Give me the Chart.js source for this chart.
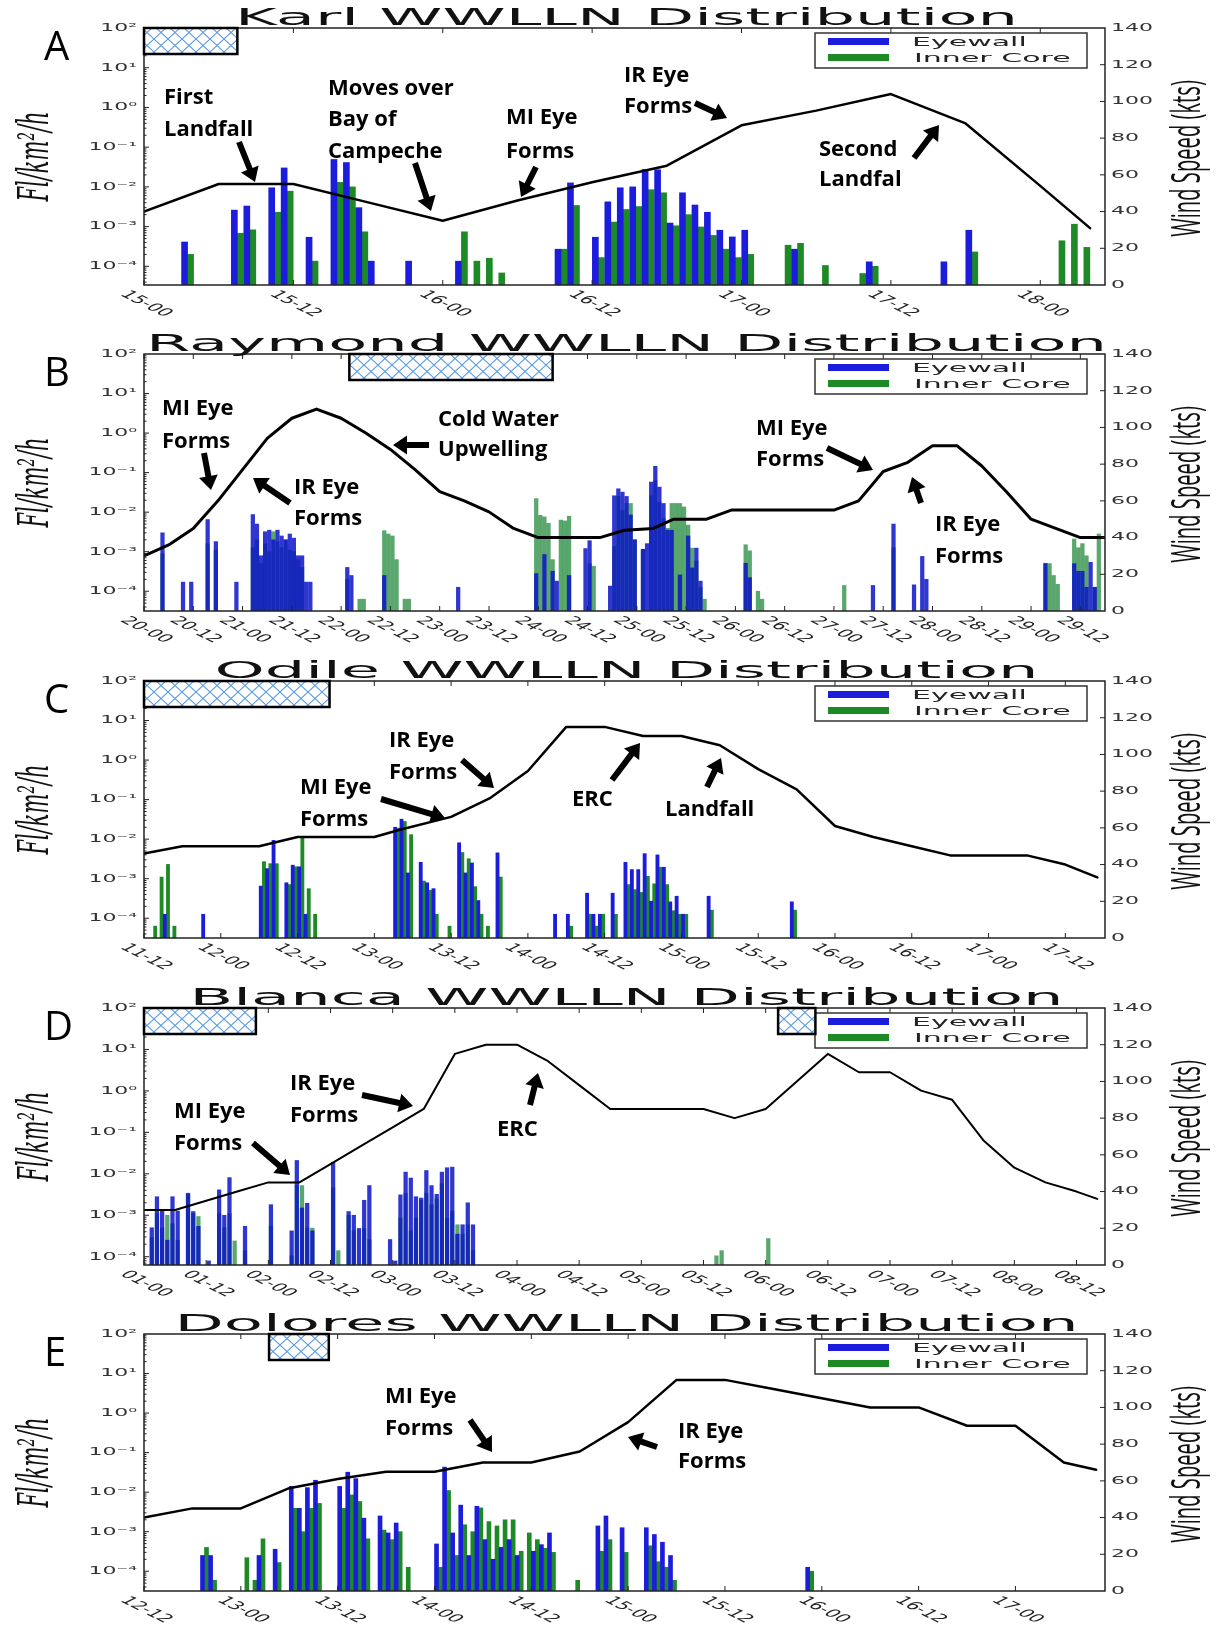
<!DOCTYPE html>
<html>
<head>
<meta charset="utf-8">
<title>WWLLN Distribution</title>
<script src="https://cdn.jsdelivr.net/npm/chart.js@4.4.1/dist/chart.umd.min.js"></script>
<style>
  html, body { margin: 0; padding: 0; background: #fff; }
  #page { position: relative; width: 1225px; height: 1637px; }
  #page canvas { position: absolute; left: 0; }
</style>
</head>
<body>
<div id="page">
  <canvas id="karl" width="1225" height="327" style="top:0px"></canvas>
  <canvas id="raymond" width="1225" height="327" style="top:326px"></canvas>
  <canvas id="odile" width="1225" height="327" style="top:653px"></canvas>
  <canvas id="blanca" width="1225" height="327" style="top:980px"></canvas>
  <canvas id="dolores" width="1225" height="327" style="top:1306px"></canvas>
</div>
<script>
// ---------- Karl (hours after 15-00) ----------
const karlTicks = ['15-00','15-12','16-00','16-12','17-00','17-12','18-00'];
const karlWindHours = [0,6,12,18,24,30,36,42,48,54,60,66,72,76];
const karlWind = [40,55,55,45,35,46,56,65,87,95,104,88,54,31];
const karlHours = [3,7,8,10,11,13,15,16,17,18,21,25,26,27,28,33,34,36,37,38,39,40,41,42,43,44,45,46,47,48,51,52,54,57,58,64,66,73,74,75];
const karlEyewall = [4.1e-4,2.6e-3,3.3e-3,9.5e-3,3.0e-2,5.4e-4,4.9e-2,4.1e-2,3.0e-3,1.35e-4,1.35e-4,1.35e-4,null,null,null,2.7e-4,1.26e-2,5.4e-4,4.2e-3,9.5e-3,1.0e-2,2.75e-2,2.7e-2,1.23e-3,7.1e-3,3.5e-3,2.3e-3,8.1e-4,5.5e-4,8.1e-4,null,2.7e-4,null,null,1.3e-4,1.3e-4,8.1e-4,null,null,null];
const karlInnerCore = [2.0e-4,6.8e-4,8.3e-4,2.3e-3,7.8e-3,1.35e-4,1.3e-2,1.0e-2,7.4e-4,null,null,7.4e-4,1.35e-4,1.6e-4,6.8e-5,2.7e-4,3.4e-3,1.66e-4,1.3e-3,2.7e-3,3.2e-3,8.5e-3,7.1e-3,1.05e-3,2.0e-3,9.8e-4,6.0e-4,2.7e-4,1.66e-4,2.0e-4,3.4e-4,3.8e-4,1.05e-4,6.6e-5,1.0e-4,null,2.3e-4,4.4e-4,1.15e-3,3.0e-4];
const karlImagery = [[0, 7.5]];

// ---------- Raymond (hours after 20-00) ----------
const raymondTicks = ['20-00','20-12','21-00','21-12','22-00','22-12','23-00','23-12','24-00','24-12','25-00','25-12','26-00','26-12','27-00','27-12','28-00','28-12','29-00','29-12'];
const raymondWindHours = [0,6,12,18,24,30,36,42,48,54,60,66,72,78,84,90,96,111,117,124,129,137,143,168,174,180,186,192,198,204,210,216,222,228,234];
const raymondWind = [30,36,45,60,77,94,105,110,105,97,88,77,65,60,54,45,40,40,44,45,50,50,55,55,60,76,81,90,90,79,65,50,45,40,40];
const raymondHours = [4,9,11,15,17,22,26,27,28,29,30,31,32,33,34,35,36,37,38,39,40,49,50,52,53,58,59,60,61,63,64,76,95,96,97,98,99,100,101,102,103,107,108,109,113,114,115,116,117,118,119,121,122,123,124,125,126,127,128,129,130,131,132,133,134,135,136,146,147,149,150,170,177,182,187,189,190,219,220,221,222,226,227,228,229,230,231,232];
const raymondEyewall = [3.0e-3,1.7e-4,1.7e-4,6.5e-3,1.8e-3,1.7e-4,8.7e-3,5.0e-3,7.9e-4,3.2e-3,
  3.5e-3,2.0e-3,3.5e-3,2.5e-3,2.0e-3,2.8e-3,2.2e-3,7.9e-4,7.9e-4,1.7e-4,
  1.7e-4,4.0e-4,2.5e-4,null,null,2.5e-4,null,null,null,null,
  null,1.26e-4,2.8e-4,null,8.5e-4,null,3.2e-4,1.8e-4,null,null,
  2.5e-4,1.2e-3,1.9e-3,null,1.35e-4,2.6e-2,3.9e-2,3.2e-2,2.5e-2,8.5e-3,
  2.0e-3,1.15e-3,1.6e-3,5.8e-2,1.45e-1,4.3e-2,1.66e-2,3.5e-3,3.5e-3,null,
  2.6e-4,null,2.5e-3,3.9e-4,1.23e-3,1.8e-4,null,5.1e-4,2.2e-4,null,
  null,null,1.4e-4,5.0e-3,1.45e-4,7.6e-4,2.0e-4,5.0e-4,null,null,
  null,5.0e-4,3.2e-4,3.2e-4,1.26e-4,5.4e-4,1.26e-4,null];
const raymondInnerCore = [8.9e-4,null,null,1.6e-3,1.1e-3,null,1.26e-3,2.0e-3,5.0e-4,1.6e-3,
  1.0e-3,3.2e-3,1.8e-3,1.26e-3,2.0e-3,1.1e-3,1.0e-3,6.3e-4,4.0e-4,null,
  null,2.0e-4,null,6.3e-5,6.3e-5,3.4e-3,2.8e-3,2.5e-3,6.3e-4,6.3e-5,
  6.3e-5,null,2.2e-2,8.3e-3,7.6e-3,5.2e-3,6.3e-4,null,6.3e-3,6.0e-3,
  7.9e-3,null,5.0e-4,4.3e-4,null,1.35e-3,2.5e-2,1.1e-2,1.66e-2,1.66e-2,
  2.0e-3,1.15e-3,null,2.6e-2,6.3e-2,1.8e-2,6.9e-3,3.9e-3,1.66e-2,1.66e-2,
  1.66e-2,1.35e-2,4.7e-3,1.23e-3,5.8e-4,1.26e-4,6.3e-5,1.5e-3,1.05e-3,1.0e-4,
  6.3e-5,1.4e-4,null,1.26e-3,null,null,null,5.1e-4,5.0e-4,2.5e-4,
  1.5e-4,2.1e-3,1.26e-3,1.6e-3,7.9e-4,null,1.26e-4,2.8e-3];
const raymondImagery = [[50, 99.5]];

// ---------- Odile (hours after 11-12) ----------
const odileTicks = ['11-12','12-00','12-12','13-00','13-12','14-00','14-12','15-00','15-12','16-00','16-12','17-00','17-12'];
const odileWindHours = [0,6,18,24,36,40,48,54,60,66,72,78,84,90,96,102,108,114,120,126,138,144,149];
const odileWind = [46,50,50,55,55,59,66,76,91,115,115,110,110,105,92,81,61,55,50,45,45,40,33];
const odileHours = [1,2,3,4,9,18,19,20,22,23,24,25,26,39,40,41,43,44,45,47,49,50,51,52,53,55,64,66,69,70,71,73,75,76,77,78,79,80,81,82,83,84,88,101];
const odileEyewall = [null,null,1.26e-4,null,1.26e-4,6.5e-4,1.8e-3,9.3e-3,7.9e-4,2.2e-3,2.0e-3,1.26e-4,null,2.0e-2,3.2e-2,1.4e-3,2.6e-3,7.9e-4,5.6e-4,null,8.1e-3,1.4e-3,2.5e-3,2.8e-4,null,4.5e-3,1.26e-4,1.26e-4,4.3e-4,1.26e-4,1.26e-4,4.3e-4,2.6e-3,1.7e-3,1.7e-3,4.3e-3,2.7e-4,4.0e-3,1.95e-3,2.6e-4,3.6e-4,1.26e-4,3.6e-4,2.6e-4];
const odileInnerCore = [6.3e-5,1.1e-3,2.3e-3,6.3e-5,null,2.7e-3,2.4e-3,2.4e-3,7.1e-4,2.0e-3,1.17e-2,5.6e-4,1.26e-4,1.9e-2,2.8e-2,1.3e-2,8.7e-4,5.1e-4,1.26e-4,6.3e-5,4.6e-3,3.2e-3,6.3e-4,1.26e-4,6.3e-5,1.1e-3,null,6.3e-5,1.26e-4,6.3e-5,1.26e-4,1.26e-4,7.1e-4,5.3e-4,4.5e-4,1.15e-3,7.4e-4,1.95e-3,7.1e-4,1.55e-4,1.26e-4,1.26e-4,1.6e-4,1.6e-4];
const odileImagery = [[0, 29]];

// ---------- Blanca (hours after 01-00) ----------
const blancaTicks = ['01-00','01-12','02-00','02-12','03-00','03-12','04-00','04-12','05-00','05-12','06-00','06-12','07-00','07-12','08-00','08-12'];
const blancaWindHours = [0,6,12,18,24,30,36,42,48,54,60,66,72,78,84,90,108,114,120,126,132,138,144,150,156,162,168,174,180,184];
const blancaWind = [30,30,35,40,45,45,55,65,75,85,115,120,120,111,98,85,85,80,85,100,115,105,105,95,90,68,53,45,40,36];
const blancaHours = [1,2,3,4,5,6,8,9,10,12,14,15,16,17,19,24,28,29,30,31,32,36,37,39,40,41,42,43,47,48,49,50,51,52,53,54,55,56,57,58,59,60,61,62,63,110,111,120];
const blancaEyewall = [5.0e-4,2.8e-3,1.26e-3,2.5e-4,2.8e-3,1.26e-3,3.4e-3,1.23e-3,5.4e-4,7.9e-5,4.1e-3,1.0e-3,8.1e-3,null,5.4e-4,1.8e-3,4.2e-4,2.1e-2,1.5e-3,1.95e-3,4.2e-4,1.9e-2,null,1.23e-3,1.0e-3,4.8e-4,2.3e-3,5.2e-3,2.6e-4,7.9e-5,3.1e-3,1.1e-2,7.9e-3,2.8e-3,2.6e-3,1.2e-2,5.2e-3,3.2e-3,1.1e-2,1.4e-2,1.45e-2,3.5e-4,5.9e-4,2.0e-3,5.9e-4,null,null,null];
const blancaInnerCore = [2.9e-4,1.1e-3,5.0e-4,1.0e-3,6.3e-4,2.5e-4,3.2e-3,1.1e-3,9.3e-4,null,1.1e-3,5.0e-4,1.1e-3,2.4e-4,1.4e-4,5.4e-4,1.05e-4,5.2e-3,5.2e-3,4.9e-4,4.9e-4,4.6e-3,1.4e-4,1.0e-3,4.2e-4,null,4.8e-4,2.6e-4,null,null,8.5e-4,3.4e-3,4.2e-4,8.5e-4,2.3e-3,3.4e-3,1.8e-3,2.5e-3,5.8e-3,8.5e-4,1.26e-3,5.9e-4,3.5e-4,5.9e-4,1.4e-4,1.05e-4,1.4e-4,2.75e-4];
const blancaImagery = [[0, 21.6], [122.4, 129.6]];

// ---------- Dolores (hours after 12-12) ----------
const doloresTicks = ['12-12','13-00','13-12','14-00','14-12','15-00','15-12','16-00','16-12','17-00'];
const doloresWindHours = [0,6,12,18,24,30,36,42,48,54,60,66,72,78,84,90,96,102,108,114,118];
const doloresWind = [40,45,45,56,61,65,65,70,70,76,92,115,115,110,105,100,100,90,90,70,66];
const doloresHours = [7,8,12,13,14,16,18,19,20,21,24,25,26,27,29,30,31,32,36,37,38,39,40,41,42,43,44,45,46,47,48,49,50,53,56,57,59,62,63,64,65,82];
const doloresEyewall = [2.5e-4,2.5e-4,null,null,2.5e-4,3.6e-4,1.4e-2,3.9e-3,1.3e-2,2.0e-2,1.4e-2,3.2e-2,2.2e-2,2.2e-3,2.5e-3,9.3e-4,1.66e-3,null,4.9e-4,4.3e-2,9.3e-4,4.7e-3,2.5e-4,4.4e-3,6.3e-4,2.0e-4,4.0e-4,6.3e-4,2.5e-4,null,3.2e-4,4.7e-4,9.3e-4,null,1.4e-3,2.5e-3,1.26e-3,1.26e-3,8.5e-4,5.4e-4,2.5e-4,1.26e-4];
const doloresInnerCore = [4.0e-4,5.9e-5,2.2e-4,5.9e-5,6.6e-4,1.66e-4,3.9e-3,1.0e-3,3.9e-3,5.2e-3,3.9e-3,8.5e-3,5.8e-3,6.6e-4,1.1e-3,6.3e-4,1.0e-3,1.26e-4,1.26e-4,1.1e-2,2.5e-4,1.5e-3,1.0e-3,4.0e-3,1.8e-3,1.4e-3,2.0e-3,2.0e-3,3.2e-4,9.3e-4,6.3e-4,3.8e-4,3.0e-4,5.9e-5,3.2e-4,6.3e-4,3.0e-4,4.4e-4,1.74e-4,1.26e-4,5.9e-5,1.0e-4];
const doloresImagery = [[15.5, 22.9]];

// matplotlib text in the figure is stretched sideways
const SX = 2.0;
const BLUE = '#1c1cdc', GREEN = '#1e8a26';

const panels = [
  { id: 'karl', letter: 'A', title: 'Karl WWLLN Distribution', titleWidth: 783,
    ticks: karlTicks, xMax: 77.2, logMin: -4.47, lineWidth: 2.5, barWidth: 6, overlap: false,
    windHours: karlWindHours, wind: karlWind, hours: karlHours, eyewall: karlEyewall, innerCore: karlInnerCore, imagery: karlImagery,
    notes: [
      { lines: ['First', 'Landfall'], x: 20, y: [70, 102] },
      { lines: ['Moves over', 'Bay of', 'Campeche'], x: 184, y: [61, 92, 124] },
      { lines: ['MI Eye', 'Forms'], x: 362, y: [90, 124] },
      { lines: ['IR Eye', 'Forms'], x: 480, y: [48, 79] },
      { lines: ['Second', 'Landfal'], x: 675, y: [122, 152] }
    ],
    arrows: [[95,114,111,154],[271,135,287,183],[392,139,377,169],[551,75,583,90],[770,130,795,97]] },
  { id: 'raymond', letter: 'B', title: 'Raymond WWLLN Distribution', titleWidth: 961,
    ticks: raymondTicks, xMax: 234, logMin: -4.5, lineWidth: 3, barWidth: 3.6, overlap: true,
    windHours: raymondWindHours, wind: raymondWind, hours: raymondHours, eyewall: raymondEyewall, innerCore: raymondInnerCore, imagery: raymondImagery,
    notes: [
      { lines: ['MI Eye', 'Forms'], x: 18, y: [55, 88] },
      { lines: ['IR Eye', 'Forms'], x: 150, y: [134, 165] },
      { lines: ['Cold Water', 'Upwelling'], x: 294, y: [66, 96] },
      { lines: ['MI Eye', 'Forms'], x: 612, y: [75, 106] },
      { lines: ['IR Eye', 'Forms'], x: 791, y: [171, 203] }
    ],
    arrows: [[60,99,67,136],[146,149,109,124],[285,91,249,91],[683,94,729,116],[777,149,768,123]] },
  { id: 'odile', letter: 'C', title: 'Odile WWLLN Distribution', titleWidth: 824,
    ticks: odileTicks, xMax: 150.2, logMin: -4.5, lineWidth: 2.5, barWidth: 3.2, overlap: false,
    windHours: odileWindHours, wind: odileWind, hours: odileHours, eyewall: odileEyewall, innerCore: odileInnerCore, imagery: odileImagery,
    notes: [
      { lines: ['IR Eye', 'Forms'], x: 245, y: [60, 92] },
      { lines: ['MI Eye', 'Forms'], x: 156, y: [107, 139] },
      { lines: ['ERC'], x: 428, y: [119] },
      { lines: ['Landfall'], x: 521, y: [129] }
    ],
    arrows: [[318,79,350,107],[237,118,301,137],[468,99,496,62],[563,106,577,77]] },
  { id: 'blanca', letter: 'D', title: 'Blanca WWLLN Distribution', titleWidth: 874,
    ticks: blancaTicks, xMax: 185.5, logMin: -4.2, lineWidth: 2, barWidth: 3.6, overlap: true,
    windHours: blancaWindHours, wind: blancaWind, hours: blancaHours, eyewall: blancaEyewall, innerCore: blancaInnerCore, imagery: blancaImagery,
    notes: [
      { lines: ['MI Eye', 'Forms'], x: 30, y: [104, 136] },
      { lines: ['IR Eye', 'Forms'], x: 146, y: [76, 108] },
      { lines: ['ERC'], x: 353, y: [122] }
    ],
    arrows: [[109,135,146,167],[218,87,269,98],[386,97,394,65]] },
  { id: 'dolores', letter: 'E', title: 'Dolores WWLLN Distribution', titleWidth: 904,
    ticks: doloresTicks, xMax: 119.1, logMin: -4.5, lineWidth: 2.5, barWidth: 4, overlap: false,
    windHours: doloresWindHours, wind: doloresWind, hours: doloresHours, eyewall: doloresEyewall, innerCore: doloresInnerCore, imagery: doloresImagery,
    notes: [
      { lines: ['MI Eye', 'Forms'], x: 241, y: [63, 95] },
      { lines: ['IR Eye', 'Forms'], x: 534, y: [98, 128] }
    ],
    arrows: [[326,86,348,118],[513,113,484,103]] }
];

// cross-hatch tile for the imagery boxes
function hatchTile() {
  const c = document.createElement('canvas');
  c.width = 14; c.height = 13;
  const g = c.getContext('2d');
  g.strokeStyle = '#5c9ae6';
  g.lineWidth = 1.1;
  g.beginPath();
  g.moveTo(0, 0); g.lineTo(14, 13);
  g.moveTo(14, 0); g.lineTo(0, 13);
  g.stroke();
  return c;
}
const tile = hatchTile();

const SUP = { '-': '\u207B', '0': '\u2070', '1': '\u00B9', '2': '\u00B2', '3': '\u00B3', '4': '\u2074' };
const sup = (k) => String(k).split('').map(c => SUP[c]).join('');

function wideText(ctx, text, x, y, sx, font, align, baseline, color) {
  ctx.save();
  ctx.translate(x, y);
  ctx.scale(sx, 1);
  ctx.font = font;
  ctx.textAlign = align;
  ctx.textBaseline = baseline;
  ctx.fillStyle = color;
  ctx.fillText(text, 0, 0);
  ctx.restore();
}

// text running bottom-to-top, fitted to a given length
function sideLabel(ctx, text, cx, cy, style, family, length) {
  ctx.save();
  ctx.font = style + ' 20px ' + family;
  const size = 20 * length / ctx.measureText(text).width;
  ctx.translate(cx, cy);
  ctx.scale(SX, 1);
  ctx.rotate(-Math.PI / 2);
  ctx.font = style + ' ' + size.toFixed(1) + 'px ' + family;
  ctx.textAlign = 'center';
  ctx.textBaseline = 'middle';
  ctx.fillStyle = '#111';
  ctx.fillText(text, 0, 0);
  ctx.restore();
}

function arrow(ctx, x1, y1, x2, y2) {
  const ang = Math.atan2(y2 - y1, x2 - x1);
  const len = Math.hypot(x2 - x1, y2 - y1);
  const hl = 14, hw = 9.5, sw = 3;
  ctx.save();
  ctx.translate(x1, y1);
  ctx.rotate(ang);
  ctx.beginPath();
  ctx.moveTo(0, -sw);
  ctx.lineTo(len - hl, -sw);
  ctx.lineTo(len - hl, -hw);
  ctx.lineTo(len, 0);
  ctx.lineTo(len - hl, hw);
  ctx.lineTo(len - hl, sw);
  ctx.lineTo(0, sw);
  ctx.closePath();
  ctx.fillStyle = '#000';
  ctx.fill();
  ctx.restore();
}

function decorFor(p) {
  return {
    id: 'decor',
    afterDraw(chart) {
      const { ctx, chartArea: a } = chart;
      const { x, y, y1 } = chart.scales;
      ctx.save();

      // axes frame
      ctx.strokeStyle = '#222';
      ctx.lineWidth = 1.5;
      ctx.strokeRect(a.left, a.top, a.right - a.left, a.bottom - a.top);

      // tick marks, pointing inward
      ctx.lineWidth = 1;
      ctx.beginPath();
      p.ticks.forEach((lab, i) => {
        const px = x.getPixelForValue(i * 12);
        ctx.moveTo(px, a.bottom); ctx.lineTo(px, a.bottom - 5);
        ctx.moveTo(px, a.top); ctx.lineTo(px, a.top + 5);
      });
      for (let k = -5; k <= 1; k++) {
        for (let m = 1; m <= 9; m++) {
          const v = m * Math.pow(10, k);
          if (Math.log10(v) < p.logMin || v > 100) continue;
          const py = y.getPixelForValue(v);
          ctx.moveTo(a.left, py); ctx.lineTo(a.left + (m === 1 ? 5 : 2.5), py);
        }
      }
      for (let v = 20; v < 140; v += 20) {
        const py = y1.getPixelForValue(v);
        ctx.moveTo(a.right, py); ctx.lineTo(a.right - 5, py);
      }
      ctx.stroke();

      // tick labels
      for (let k = -4; k <= 2; k++) {
        wideText(ctx, '10' + sup(k), a.left - 7, y.getPixelForValue(Math.pow(10, k)), SX,
          '11px "DejaVu Sans"', 'right', 'middle', '#333');
      }
      for (let v = 0; v <= 140; v += 20) {
        wideText(ctx, String(v), a.right + 6, y1.getPixelForValue(v), SX,
          '11px "DejaVu Sans"', 'left', 'middle', '#333');
      }
      p.ticks.forEach((lab, i) => {
        const px = x.getPixelForValue(i * 12);
        ctx.save();
        ctx.translate(px + 2, a.bottom + 19);
        ctx.scale(SX, 1);
        ctx.rotate(Math.PI / 4);
        ctx.font = '11px "DejaVu Sans"';
        ctx.textAlign = 'center';
        ctx.textBaseline = 'middle';
        ctx.fillStyle = '#222';
        ctx.fillText(lab, 0, 0);
        ctx.restore();
      });

      // axis titles
      const cy = (a.top + a.bottom) / 2;
      sideLabel(ctx, 'Fl/km\u00B2/h', 37, cy, 'italic', '"DejaVu Serif"', 90);
      sideLabel(ctx, 'Wind Speed (kts)', 1188, cy + 2, 'normal', '"Open Sans"', 157);

      // panel title, stretched to width
      ctx.font = '23px "DejaVu Sans"';
      const tsx = p.titleWidth / ctx.measureText(p.title).width;
      wideText(ctx, p.title, (a.left + a.right) / 2 + 2, a.top - 3, tsx, '23px "DejaVu Sans"', 'center', 'alphabetic', '#111');

      // legend
      const lx = a.right - 290, ly = a.top + 5;
      ctx.fillStyle = '#fff';
      ctx.fillRect(lx, ly, 272, 35);
      ctx.strokeStyle = '#333';
      ctx.lineWidth = 1.5;
      ctx.strokeRect(lx, ly, 272, 35);
      ctx.fillStyle = BLUE;
      ctx.fillRect(a.right - 277, a.top + 10, 61, 7);
      ctx.fillStyle = GREEN;
      ctx.fillRect(a.right - 277, a.top + 26, 61, 7);
      wideText(ctx, 'Eyewall', a.right - 193, a.top + 18, 2.5, '12px "DejaVu Sans"', 'left', 'alphabetic', '#222');
      wideText(ctx, 'Inner Core', a.right - 191, a.top + 34, 2.5, '12px "DejaVu Sans"', 'left', 'alphabetic', '#222');

      // hatched imagery periods
      const pat = ctx.createPattern(tile, 'repeat');
      p.imagery.forEach(([h0, h1]) => {
        const x0 = x.getPixelForValue(h0), x1 = x.getPixelForValue(h1);
        ctx.fillStyle = '#fff';
        ctx.fillRect(x0, a.top, x1 - x0, 26);
        ctx.fillStyle = pat;
        ctx.fillRect(x0, a.top, x1 - x0, 26);
        ctx.strokeStyle = '#000';
        ctx.lineWidth = 2.5;
        ctx.strokeRect(x0, a.top, x1 - x0, 26);
      });

      // panel letter
      ctx.font = '40px "Open Sans"';
      ctx.textAlign = 'left';
      ctx.textBaseline = 'alphabetic';
      ctx.fillStyle = '#000';
      ctx.fillText(p.letter, 44, a.top + 32);

      // event notes and arrows
      ctx.font = 'bold 22px "Open Sans"';
      ctx.textBaseline = 'middle';
      p.notes.forEach(n => {
        n.lines.forEach((t, i) => ctx.fillText(t, a.left + n.x, a.top + n.y[i]));
      });
      p.arrows.forEach(([x1, y1a, x2, y2]) => arrow(ctx, a.left + x1, a.top + y1a, a.left + x2, a.top + y2));

      ctx.restore();
    }
  };
}

function buildPanel(p) {
  const pts = (vals) => p.hours
    .map((h, i) => ({ x: h + 0.5, y: vals[i] }))
    .filter(d => d.y !== null);
  const blue = p.overlap ? 'rgba(10,20,200,0.85)' : BLUE;
  const green = p.overlap ? 'rgba(0,120,30,0.65)' : GREEN;
  return new Chart(document.getElementById(p.id), {
    type: 'bar',
    data: {
      datasets: [
        { type: 'line', label: 'Wind Speed', yAxisID: 'y1', order: 0,
          data: p.windHours.map((h, i) => ({ x: h, y: p.wind[i] })),
          borderColor: '#000', borderWidth: p.lineWidth, pointRadius: 0, tension: 0,
          borderJoinStyle: 'round', borderCapStyle: 'round' },
        { label: 'Eyewall', yAxisID: 'y', order: 1, data: pts(p.eyewall),
          backgroundColor: blue, borderWidth: 0, barThickness: p.barWidth, grouped: !p.overlap },
        { label: 'Inner Core', yAxisID: 'y', order: 2, data: pts(p.innerCore),
          backgroundColor: green, borderWidth: 0, barThickness: p.barWidth, grouped: !p.overlap }
      ]
    },
    options: {
      responsive: false,
      animation: false,
      events: [],
      layout: { padding: { left: 144, right: 120, top: 28, bottom: 42 } },
      plugins: { legend: { display: false }, tooltip: { enabled: false }, title: { display: false } },
      scales: {
        x: { type: 'linear', min: 0, max: p.xMax, offset: false, display: false },
        y: { type: 'logarithmic', min: Math.pow(10, p.logMin), max: 100, display: false },
        y1: { type: 'linear', position: 'right', min: 0, max: 140, display: false }
      }
    },
    plugins: [decorFor(p)]
  });
}

panels.forEach(buildPanel);
</script>
</body>
</html>
